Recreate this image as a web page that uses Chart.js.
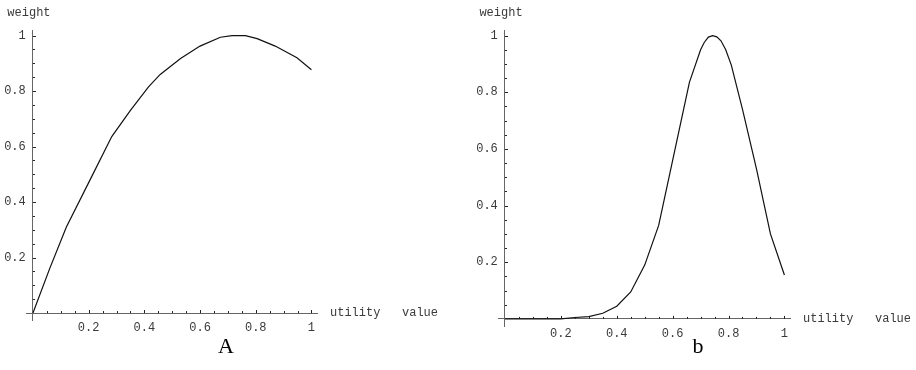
<!DOCTYPE html>
<html>
<head>
<meta charset="utf-8">
<script src="https://cdn.jsdelivr.net/npm/chart.js@4.4.1/dist/chart.umd.min.js"></script>
<style>
body { margin: 0; background: #fff; }
#wrap { position: relative; width: 916px; height: 370px; }
canvas { position: absolute; top: 0; }
.cap { position: absolute; font-family: "Liberation Serif", "Times New Roman", serif; font-size: 22px; line-height: 22px; color: #000; transform: translateX(-50%); }
</style>
</head>
<body>
<div id="wrap">
  <canvas id="chartA" width="458" height="370" style="left:0"></canvas>
  <canvas id="chartB" width="458" height="370" style="left:458px"></canvas>
  <div class="cap" style="left:226px; top:335px">A</div>
  <div class="cap" style="left:698px; top:335px">b</div>
</div>
<script>
// panel A
const utilityA = [0, 0.06, 0.12, 0.205, 0.283, 0.35, 0.415, 0.457, 0.53, 0.6, 0.673, 0.715, 0.763, 0.805, 0.87, 0.948, 1.0];
const weightA  = [0, 0.16, 0.31, 0.48, 0.636, 0.73, 0.815, 0.86, 0.917, 0.962, 0.994, 1.0, 1.0, 0.989, 0.962, 0.92, 0.877];
// panel b
const utilityB = [0, 0.2, 0.25, 0.3, 0.35, 0.4, 0.45, 0.5, 0.55, 0.6, 0.66, 0.7, 0.713, 0.728, 0.743, 0.758, 0.773, 0.79, 0.81, 0.85, 0.9, 0.95, 1.0];
const weightB  = [0, 0, 0.005, 0.008, 0.02, 0.045, 0.095, 0.19, 0.33, 0.56, 0.835, 0.95, 0.976, 0.995, 1.0, 0.996, 0.982, 0.95, 0.896, 0.74, 0.53, 0.3, 0.155];

const tickValues = [0.2, 0.4, 0.6, 0.8, 1];
const tickLabels = ['0.2', '0.4', '0.6', '0.8', '1'];
const minorTicks = [0.05, 0.1, 0.15, 0.2, 0.25, 0.3, 0.35, 0.4, 0.45, 0.5, 0.55, 0.6, 0.65, 0.7, 0.75, 0.8, 0.85, 0.9, 0.95, 1];
const yTitle = 'weight';
const xTitle = 'utility   value';

const monoFont = { family: '"Liberation Mono", "DejaVu Sans Mono", monospace', size: 12 };
const textColor = '#3a3a3a';
const axisColor = '#666';

function labelFor(v) {
  for (let i = 0; i < tickValues.length; i++) {
    if (Math.abs(v - tickValues[i]) < 1e-6) return tickLabels[i];
  }
  return '';
}
// y labels sit right on the axis when it is placed at x=0, so pad with a space
function yLabelFor(v) {
  const s = labelFor(v);
  return s ? s + ' ' : '';
}

// inward tick marks and the two axis titles
const axisDecor = {
  id: 'axisDecor',
  afterDraw(chart) {
    const ctx = chart.ctx;
    const xs = chart.scales.x, ys = chart.scales.y;
    const x0 = xs.getPixelForValue(0), y0 = ys.getPixelForValue(0);
    ctx.save();
    ctx.strokeStyle = '#222';
    ctx.lineWidth = 1;
    ctx.beginPath();
    minorTicks.forEach(v => {
      const len = labelFor(v) ? 3 : 2;
      const px = Math.round(xs.getPixelForValue(v)) + 0.5;
      ctx.moveTo(px, y0);
      ctx.lineTo(px, y0 - len);
      const py = Math.round(ys.getPixelForValue(v)) + 0.5;
      ctx.moveTo(x0, py);
      ctx.lineTo(x0 + len, py);
    });
    ctx.stroke();
    ctx.fillStyle = textColor;
    ctx.font = '12px ' + monoFont.family;
    ctx.textBaseline = 'middle';
    ctx.textAlign = 'center';
    ctx.fillText(yTitle, x0 - 4, ys.top - 17);
    ctx.textAlign = 'left';
    ctx.fillText(xTitle, xs.right + 13, y0);
    ctx.restore();
  }
};

function makeChart(id, xVals, yVals, pad) {
  const pts = xVals.map((x, i) => ({ x: x, y: yVals[i] }));
  return new Chart(document.getElementById(id), {
    type: 'line',
    data: {
      datasets: [{
        data: pts,
        borderColor: '#111',
        borderWidth: 1.2,
        pointRadius: 0,
        tension: 0,
        fill: false
      }]
    },
    options: {
      responsive: false,
      animation: false,
      devicePixelRatio: 1,
      layout: { padding: pad },
      plugins: { legend: { display: false }, tooltip: { enabled: false } },
      scales: {
        x: {
          type: 'linear',
          min: -0.025,
          max: 1.02,
          position: { y: 0 },
          afterFit: s => { s.height = 0; },
          afterBuildTicks: s => { s.ticks = minorTicks.map(v => ({ value: v })); },
          grid: { drawOnChartArea: false, drawTicks: false },
          border: { display: true, color: axisColor, width: 1 },
          ticks: { callback: labelFor, autoSkip: false, maxRotation: 0, padding: 8, font: monoFont, color: textColor }
        },
        y: {
          type: 'linear',
          min: -0.025,
          max: 1.02,
          position: { x: 0 },
          afterFit: s => { s.width = 0; },
          afterBuildTicks: s => { s.ticks = minorTicks.map(v => ({ value: v })); },
          grid: { drawOnChartArea: false, drawTicks: false },
          border: { display: true, color: axisColor, width: 1 },
          ticks: { callback: yLabelFor, autoSkip: false, padding: 5, font: monoFont, color: textColor }
        }
      }
    },
    plugins: [axisDecor]
  });
}

makeChart('chartA', utilityA, weightA, { left: 26, right: 141, top: 30, bottom: 50 });
makeChart('chartB', utilityB, weightB, { left: 40, right: 126, top: 30, bottom: 44 });
</script>
</body>
</html>
